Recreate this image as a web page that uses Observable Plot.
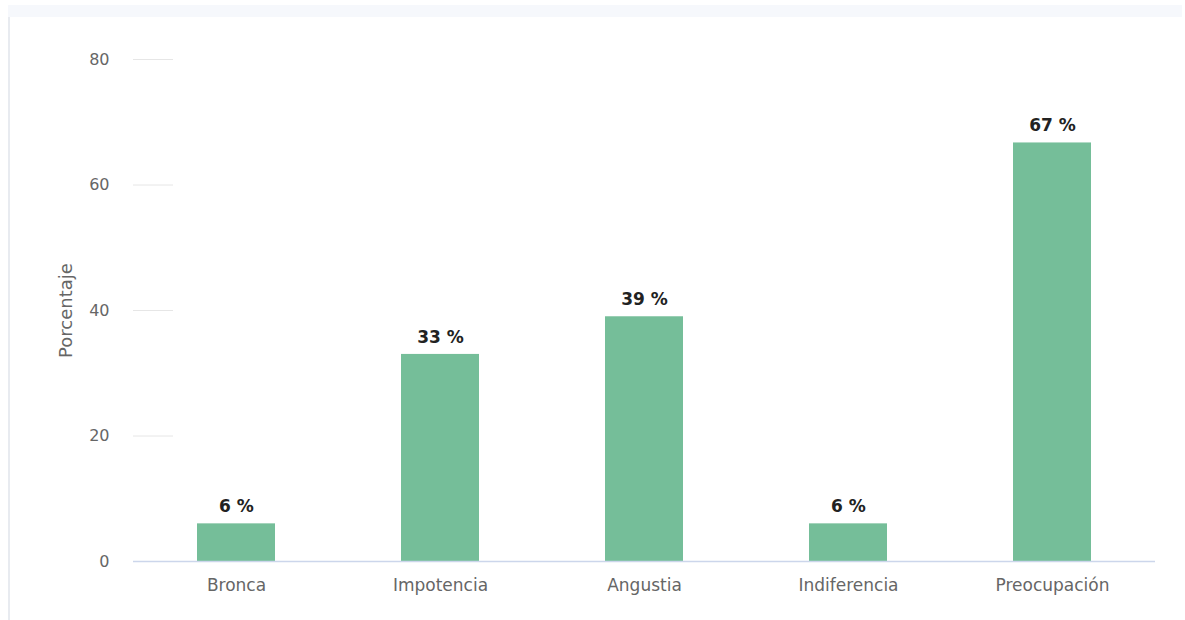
<!DOCTYPE html>
<html>
<head>
<meta charset="utf-8">
<script src="https://cdn.jsdelivr.net/npm/d3@7"></script>
<script src="https://cdn.jsdelivr.net/npm/@observablehq/plot@0.6"></script>
<style>
  html, body { margin: 0; padding: 0; background: #ffffff; }
  #wrap { position: absolute; left: 8px; top: 5px; }
  #strip { width: 1174px; height: 12px; background: #f6f8fc; }
  #chart { border-left: 2px solid #e8ebf0; width: 1172px; height: 603px; }
  #chart svg { display: block; }
</style>
</head>
<body>
<div id="wrap">
  <div id="strip"></div>
  <div id="chart"></div>
</div>
<script>
const categories = ["Bronca", "Impotencia", "Angustia", "Indiferencia", "Preocupación"];
const values = [6, 33, 39, 6, 66.7];
const valueLabels = ["6 %", "33 %", "39 %", "6 %", "67 %"];
const yTicks = [0, 20, 40, 60, 80];
const yTitle = ["Porcentaje"];

const data = categories.map((c, i) => ({category: c, value: values[i], label: valueLabels[i]}));

const width = 1172, height = 603;
const marginLeft = 123, marginRight = 27, marginTop = 42, marginBottom = 59;
const plotWidth = width - marginLeft - marginRight;

const chart = Plot.plot({
  width, height, marginLeft, marginRight, marginTop, marginBottom,
  style: {fontFamily: "DejaVu Sans", fontSize: "16px", color: "#666666", background: "transparent"},
  x: {domain: categories, paddingInner: 0.62, paddingOuter: 0.31, label: null},
  y: {domain: [0, 80], label: null},
  marks: [
    Plot.gridY(yTicks, {stroke: "#e6e6e6", strokeOpacity: 1, insetRight: plotWidth - 40}),
    Plot.axisY(yTicks, {tickSize: 0, tickPadding: 24, fill: "#666666", fontSize: 16, label: null}),
    Plot.text(yTitle, {frameAnchor: "left", textAnchor: "middle", rotate: -90, dx: -67, fill: "#666666", fontSize: 18}),
    Plot.barY(data, {x: "category", y: "value", fill: "#75be99"}),
    Plot.ruleY([0], {stroke: "#ccd6eb", strokeWidth: 1.5}),
    Plot.axisX({tickSize: 0, tickPadding: 17, fill: "#666666", fontSize: 17, label: null}),
    Plot.text(data, {x: "category", y: "value", text: "label", dy: -17, fill: "#222222", fontWeight: "bold", fontSize: 17, stroke: "white", strokeWidth: 3, paintOrder: "stroke"})
  ]
});
document.getElementById("chart").appendChild(chart);
</script>
</body>
</html>
